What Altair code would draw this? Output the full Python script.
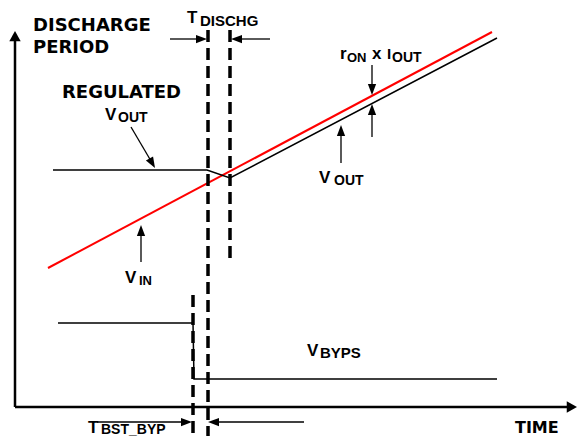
import altair as alt
import pandas as pd

# ---- diagram data (time = horizontal position, level = vertical position, px-like units) ----
vin_t = [48, 492]
vin_v = [268, 32]

vout_t = [53, 207, 230, 497]
vout_v = [170, 170, 178, 38]

vbyps_t = [58, 193, 194, 497]
vbyps_v = [323, 323, 379, 379]

# axes (origin -> tip)
axis_t1 = [15, 15]
axis_v1 = [407, 407]
axis_t2 = [15, 572]
axis_v2 = [36, 407]

# dashed timing markers
dash_t = [208, 230, 193]
dash_top = [30, 30, 295]
dash_bot = [436, 262, 436]

# pointer shafts
shaft_t1 = [170, 238, 97, 215, 131, 141, 372, 372, 341]
shaft_v1 = [39, 39, 422, 422, 127, 262, 65, 137, 163]
shaft_t2 = [200, 270, 185, 304, 151, 141, 372, 372, 341]
shaft_v2 = [39, 39, 422, 422, 161, 231, 88, 110, 131]

# arrow heads (tip position, direction in degrees clockwise from "up")
head_t = [207, 231, 192, 208, 155, 141, 372, 372, 341]
head_v = [39, 39, 422, 422, 168, 225, 95, 104, 125]
head_a = [90, 270, 90, 270, 150, 0, 180, 0, 0]

axhead_t = [15, 577]
axhead_v = [31, 407]
axhead_a = [0, 90]

# spaced capital labels (left x, baseline y)
cap_text = ["DISCHARGE", "PERIOD", "REGULATED", "TIME"]
cap_t = [33, 33, 62, 515]
cap_v = [31, 53, 98, 433]
cap_size = [18, 18, 18, 16]

# symbol labels with subscripts (left x, baseline y)
lab_text = ["T", "DISCHG", "V", "OUT",
            "r", "ON", "x", "I", "OUT", "V", "OUT", "V", "IN",
            "V", "BYPS", "T", "BST_BYP"]
lab_t = [187, 200, 105, 118,
         340, 347, 372, 387, 392, 319, 334, 125, 139,
         307, 320, 88, 101]
lab_v = [23, 26, 120, 122,
         59, 62, 59, 59, 62, 183, 185, 283, 285,
         356, 358, 433, 434]
lab_size = [17, 15, 17, 14,
            17, 13, 17, 15, 14, 17, 14, 17, 13,
            17, 15, 17, 14]

W, H = 569, 430
xs = alt.Scale(domain=[8, 8 + W], nice=False, zero=False)
ys = alt.Scale(domain=[8, 8 + H], nice=False, zero=False, reverse=True)

def X(f):
    return alt.X(f, type="quantitative", scale=xs, axis=None)

def Y(f):
    return alt.Y(f, type="quantitative", scale=ys, axis=None)

def line_layer(ts, vs, color, width):
    df = pd.DataFrame({"t": ts, "v": vs, "i": list(range(len(ts)))})
    return alt.Chart(df).mark_line(color=color, strokeWidth=width).encode(
        x=X("t"), y=Y("v"), order="i:Q")

axes_df = pd.DataFrame({"t1": axis_t1, "v1": axis_v1, "t2": axis_t2, "v2": axis_v2})
axes = alt.Chart(axes_df).mark_rule(color="black", strokeWidth=2.5).encode(
    x=X("t1"), y=Y("v1"), x2="t2", y2="v2")

dash_df = pd.DataFrame({"t": dash_t, "a": dash_top, "b": dash_bot})
dashes = alt.Chart(dash_df).mark_rule(color="black", strokeWidth=3.5, strokeDash=[12, 6]).encode(
    x=X("t"), y=Y("a"), y2="b")

shaft_df = pd.DataFrame({"t1": shaft_t1, "v1": shaft_v1, "t2": shaft_t2, "v2": shaft_v2})
shafts = alt.Chart(shaft_df).mark_rule(color="black", strokeWidth=1.3).encode(
    x=X("t1"), y=Y("v1"), x2="t2", y2="v2")

head_df = pd.DataFrame({"t": head_t, "v": head_v, "a": head_a})
heads = alt.Chart(head_df).mark_point(
    shape="M0,0L-0.75,2L0.75,2Z", filled=True, color="black", opacity=1, size=121, strokeWidth=0
).encode(x=X("t"), y=Y("v"), angle=alt.Angle("a:Q", scale=None))

axhead_df = pd.DataFrame({"t": axhead_t, "v": axhead_v, "a": axhead_a})
axheads = alt.Chart(axhead_df).mark_point(
    shape="M0,0L-1,1.8L1,1.8Z", filled=True, color="black", opacity=1, size=130, strokeWidth=0
).encode(x=X("t"), y=Y("v"), angle=alt.Angle("a:Q", scale=None))

cap_df = pd.DataFrame({"t": cap_t, "v": cap_v, "s": cap_text, "fs": cap_size})
caps = alt.Chart(cap_df).mark_text(
    align="left", baseline="alphabetic", font="DejaVu Sans", fontWeight="bold", color="black"
).encode(x=X("t"), y=Y("v"), text="s:N", size=alt.Size("fs:Q", scale=None))

lab_df = pd.DataFrame({"t": lab_t, "v": lab_v, "s": lab_text, "fs": lab_size})
labels = alt.Chart(lab_df).mark_text(
    align="left", baseline="alphabetic", font="Liberation Sans", fontWeight="bold", color="black"
).encode(x=X("t"), y=Y("v"), text="s:N", size=alt.Size("fs:Q", scale=None))

chart = alt.layer(
    axes,
    line_layer(vin_t, vin_v, "#ff0000", 2),
    line_layer(vout_t, vout_v, "black", 1.5),
    line_layer(vbyps_t, vbyps_v, "black", 1.5),
    dashes,
    shafts,
    heads,
    axheads,
    caps,
    labels,
).properties(
    width=W, height=H, autosize=alt.AutoSizeParams(type="none"), padding=0
).configure_view(stroke=None)

chart.save("out.html", embed_options={"renderer": "svg", "actions": False})
